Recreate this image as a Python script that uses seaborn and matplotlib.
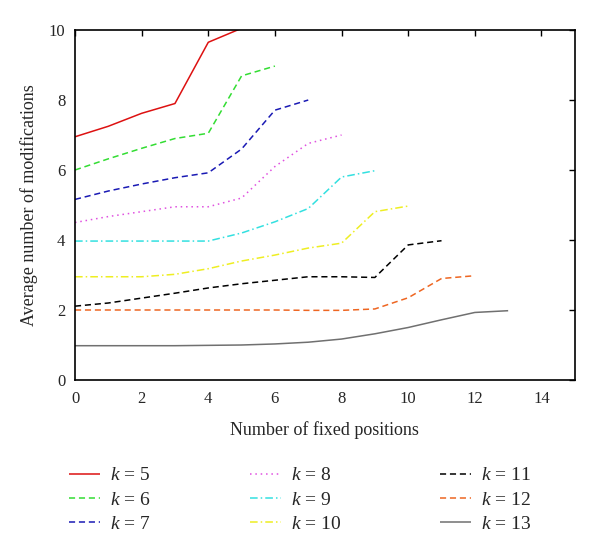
import pandas as pd
import seaborn as sns
import matplotlib
matplotlib.use("Agg")
import matplotlib.pyplot as plt

# values
k5 = [6.95, 7.25, 7.62, 7.9, 9.65, 10.05]
k6 = [6.0, 6.32, 6.62, 6.9, 7.05, 8.69, 8.97]
k7 = [5.16, 5.4, 5.6, 5.78, 5.92, 6.6, 7.71, 8.0]
k8 = [4.5, 4.67, 4.81, 4.95, 4.95, 5.2, 6.1, 6.76, 7.0]
k9 = [3.97, 3.97, 3.97, 3.97, 3.97, 4.2, 4.52, 4.9, 5.8, 5.98]
k10 = [2.95, 2.95, 2.95, 3.02, 3.18, 3.4, 3.57, 3.77, 3.91, 4.81, 4.97]
k11 = [2.11, 2.2, 2.34, 2.48, 2.63, 2.75, 2.85, 2.95, 2.95, 2.93, 3.86, 3.98]
k12 = [2.0, 2.0, 2.0, 2.0, 2.0, 2.0, 2.0, 1.99, 1.99, 2.03, 2.35, 2.9, 2.98]
k13 = [0.98, 0.98, 0.98, 0.98, 0.99, 1.0, 1.03, 1.08, 1.17, 1.32, 1.5, 1.72, 1.93, 1.98]

series = {5: k5, 6: k6, 7: k7, 8: k8, 9: k9, 10: k10, 11: k11, 12: k12, 13: k13}
labels = [f"$k$ = {k}" for k in series]

colors = ["#dd1111", "#33dd33", "#1a1ab4", "#e050e0", "#33e0e0",
          "#eeee22", "#000000", "#ee6622", "#707070"]
dashes = [(1, 0), (4, 2.5), (4, 2.5), (1, 2.5), (5, 2, 1, 2), (5, 2, 1, 2),
          (4, 2.5), (4, 2.5), (1, 0)]

rows = []
for k, vals in series.items():
    for x, y in enumerate(vals):
        rows.append({"pos": x, "mods": y, "k": f"$k$ = {k}"})
df = pd.DataFrame(rows)

sns.set_style("white")
plt.rcParams["font.family"] = ["Liberation Serif", "DejaVu Serif"]
plt.rcParams["mathtext.fontset"] = "custom"
plt.rcParams["mathtext.it"] = "Liberation Serif:italic"
plt.rcParams["mathtext.rm"] = "Liberation Serif"

fig = plt.figure(figsize=(6, 5.52), dpi=100)
ax = fig.add_axes([0.125, 0.3116, 0.833, 0.634])

sns.lineplot(data=df, x="pos", y="mods", hue="k", style="k",
             palette=dict(zip(labels, colors)), dashes=dict(zip(labels, dashes)),
             linewidth=1.1, ax=ax, legend=False)

ax.set_xlim(0, 15)
ax.set_ylim(0, 10)
ax.set_xticks(range(0, 15, 2))
ax.set_yticks(range(0, 11, 2))
ax.tick_params(direction="in", top=True, right=True, length=4, width=1,
               labelsize=12, labeltop=False, labelright=False, color="black")
ax.tick_params(axis="x", pad=8)
ax.tick_params(axis="y", pad=7)
for s in ax.spines.values():
    s.set_color("black")
    s.set_linewidth(1.2)
ax.set_xlabel("Number of fixed positions", fontsize=13, labelpad=10)
ax.set_ylabel("Average number of modifications", fontsize=13, labelpad=8)

# legend below the axes, filled column by column
handles = ax.get_lines()[:len(labels)]
fig.legend(handles, labels, loc="upper center", bbox_to_anchor=(0.5, 0.186),
           ncol=3, frameon=False, fontsize=14, handlelength=1.6,
           handletextpad=0.5, columnspacing=5.1, labelspacing=0.35)

fig.savefig("out.png", dpi=100)
